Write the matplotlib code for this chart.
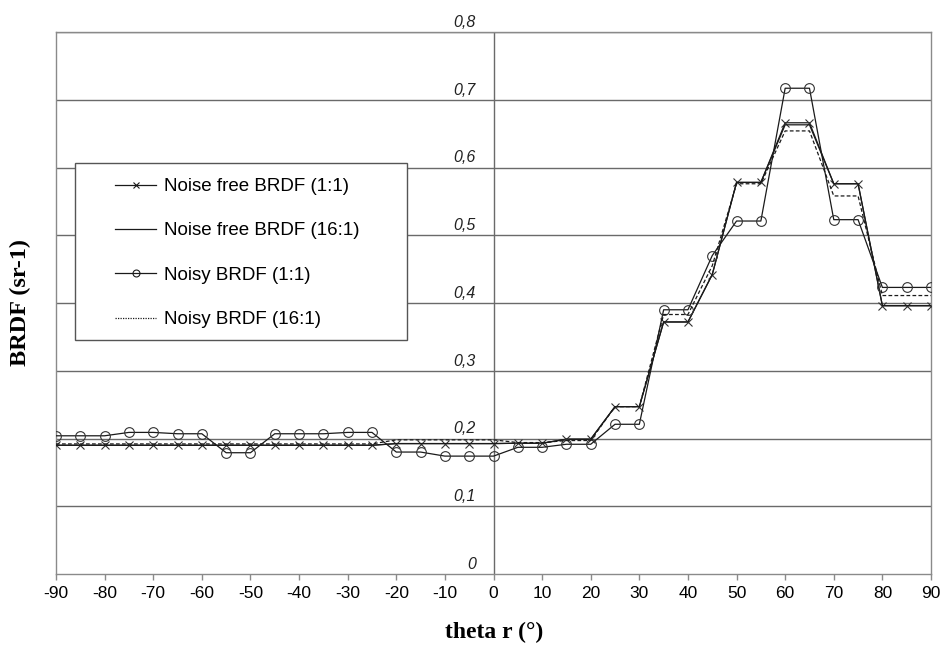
import matplotlib
matplotlib.use('Agg')
import matplotlib.pyplot as plt
from matplotlib.patches import Rectangle

# angles theta r (deg)
theta = list(range(-90, 95, 5))

# Noise free BRDF (1:1)
noise_free_11 = [0.190] * 14 + [0.1925] * 5 + [0.193, 0.193, 0.199, 0.199,
                 0.247, 0.247, 0.372, 0.372, 0.442, 0.578, 0.578,
                 0.666, 0.666, 0.576, 0.576, 0.396, 0.396, 0.396]

# Noise free BRDF (16:1)
noise_free_161 = [0.190] * 14 + [0.1925] * 5 + [0.193, 0.193, 0.199, 0.199,
                  0.247, 0.247, 0.372, 0.372, 0.442, 0.578, 0.578,
                  0.663, 0.663, 0.576, 0.576, 0.396, 0.396, 0.396]

# Noisy BRDF (1:1)
noisy_11 = [0.204, 0.204, 0.204, 0.209, 0.209, 0.207, 0.207, 0.179, 0.179,
            0.207, 0.207, 0.207, 0.209, 0.209, 0.180, 0.180, 0.174, 0.174,
            0.174, 0.187, 0.187, 0.1915, 0.1915, 0.221, 0.221, 0.390, 0.390,
            0.470, 0.521, 0.521, 0.717, 0.717, 0.523, 0.523, 0.423, 0.423, 0.423]

# Noisy BRDF (16:1)
noisy_161 = [0.192] * 14 + [0.198] * 5 + [0.194, 0.194, 0.197, 0.197,
             0.247, 0.247, 0.383, 0.383, 0.455, 0.576, 0.576,
             0.654, 0.654, 0.558, 0.558, 0.411, 0.411, 0.411]

yticks = [0, 0.1, 0.2, 0.3, 0.4, 0.5, 0.6, 0.7, 0.8]
ytick_labels = ['0', '0,1', '0,2', '0,3', '0,4', '0,5', '0,6', '0,7', '0,8']
xticks = list(range(-90, 100, 10))

plt.rcParams['font.family'] = ['Liberation Sans', 'DejaVu Sans']

fig = plt.figure(figsize=(9.44, 6.48), dpi=100)
ax = fig.add_axes([56 / 944, 1 - 574 / 648, 875 / 944, 542 / 648])
ax.set_xlim(-90, 90)
ax.set_ylim(0, 0.8)

grid_col = '#6a6a6a'
for v in yticks[1:]:
    ax.axhline(v, color=grid_col, lw=1.0, zorder=1)
ax.axvline(0, color=grid_col, lw=1.0, zorder=1)
for s in ax.spines.values():
    s.set_color('#8a8a8a')
    s.set_linewidth(1.0)

# y labels sit next to the zero axis, italic
for v, lab in zip(yticks, ytick_labels):
    ax.text(-3.6, v + 0.0075, lab, ha='right', va='baseline',
            fontsize=11.5, style='italic', color='#222222', zorder=2)
ax.set_yticks([])

ax.set_xticks(xticks)
ax.set_xticklabels([str(x) for x in xticks], fontsize=12.5)
ax.tick_params(axis='x', direction='out', length=4, width=1, color='#8a8a8a', pad=5)

lc = '#1a1a1a'
l1, = ax.plot(theta, noise_free_11, color=lc, lw=0.9, marker='x', ms=6,
              mew=0.8, mec='#333333', zorder=4)
l2, = ax.plot(theta, noise_free_161, color=lc, lw=0.9, zorder=4)
l3, = ax.plot(theta, noisy_11, color=lc, lw=0.9, marker='o', ms=7, mfc='none',
              mew=0.8, mec='#333333', zorder=4)
l4, = ax.plot(theta, noisy_161, color=lc, lw=0.9, ls=(0, (3, 1.8)), zorder=4)

# legend box
box = Rectangle((75 / 944, 1 - 340 / 648), 332 / 944, 177 / 648,
                transform=fig.transFigure, facecolor='white', edgecolor='#555555',
                lw=1.0, zorder=5, clip_on=False)
ax.add_patch(box)
h1, = ax.plot([], [], color=lc, lw=0.9, marker='x', ms=5, mew=0.8)
h3, = ax.plot([], [], color=lc, lw=0.9, marker='o', ms=5, mfc='none', mew=0.8)
h4, = ax.plot([], [], color=lc, lw=0.9, ls=(0, (1, 1)))
leg = ax.legend([h1, l2, h3, h4],
                ['Noise free BRDF (1:1)', 'Noise free BRDF (16:1)',
                 'Noisy BRDF (1:1)', 'Noisy BRDF (16:1)'],
                loc='upper left', bbox_to_anchor=(115 / 944, 1 - 178 / 648),
                bbox_transform=fig.transFigure, frameon=False, fontsize=13.5,
                borderpad=0, borderaxespad=0, handlelength=2.2,
                handletextpad=0.4, labelspacing=1.45)
leg.set_zorder(6)

fig.text(494 / 944, 1 - 632 / 648, 'theta r (°)', ha='center', va='center',
         fontsize=17, fontweight='bold', family='Liberation Serif')
fig.text(20 / 944, 1 - 303 / 648, 'BRDF (sr-1)', ha='center', va='center',
         rotation=90, fontsize=17.5, fontweight='bold', family='Liberation Serif')

fig.savefig('out.png', dpi=100, facecolor='white')
